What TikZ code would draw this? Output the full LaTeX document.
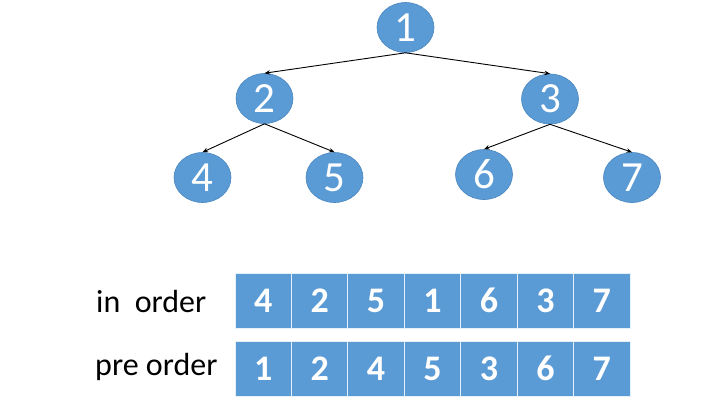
\documentclass[tikz,border=0pt]{standalone}
\usepackage{fontspec}
\setmainfont{Carlito}
\usetikzlibrary{arrows.meta}
\definecolor{nodeblue}{HTML}{5B9BD5}
\definecolor{nodeedge}{HTML}{4A86BF}
\tikzset{
  treenode/.style={ellipse, fill=nodeblue, draw=nodeedge, line width=0.6pt,
    minimum width=57pt, minimum height=50pt, inner sep=0pt, text=white,
    font=\fontsize{43}{43}\selectfont},
  cell/.style={rectangle, fill=nodeblue, draw=white!85!nodeblue, line width=0.8pt,
    minimum width=56.4pt, minimum height=55pt, inner sep=0pt, text=white,
    font=\fontsize{36}{36}\selectfont\bfseries},
  edge/.style={draw=black, line width=0.9pt, -{Stealth[length=5.5pt,width=4.5pt]}},
  lbl/.style={anchor=base west, inner sep=0pt, font=\fontsize{32}{32}\selectfont}
}
\usetikzlibrary{shapes.geometric}
\begin{document}
\begin{tikzpicture}[x=1pt,y=-1pt]
\useasboundingbox (0,0) rectangle (706,416);
\node[treenode] (n1) at (405.5,27.5) {1};
\node[treenode] (n2) at (264.5,98.5) {2};
\node[treenode] (n3) at (550,99) {3};
\node[treenode] (n4) at (202.5,177.5) {4};
\node[treenode] (n5) at (334.5,177.5) {5};
\node[treenode] (n6) at (484,174.5) {6};
\node[treenode] (n7) at (632,177.5) {7};
\draw[edge] (n1.south) -- (n2.north);
\draw[edge] (n1.south) -- (n3.north);
\draw[edge] (n2.south) -- (n4.north);
\draw[edge] (n2.south) -- (n5.north);
\draw[edge] (n3.south) -- (n6.north);
\draw[edge] (n3.south) -- (n7.north);
\node[lbl] (lin) at (96,312) {in\ \ order};
\node[lbl] (lpre) at (95,375) {pre order};
\foreach \v [count=\i] in {4,2,5,1,6,3,7} {
  \node[cell] (a\i) at ({235+56.43*(\i-0.5)},300.7) {\v};
}
\foreach \v [count=\i] in {1,2,4,5,3,6,7} {
  \node[cell] (b\i) at ({235+56.43*(\i-0.5)},368.6) {\v};
}
\end{tikzpicture}
\end{document}
